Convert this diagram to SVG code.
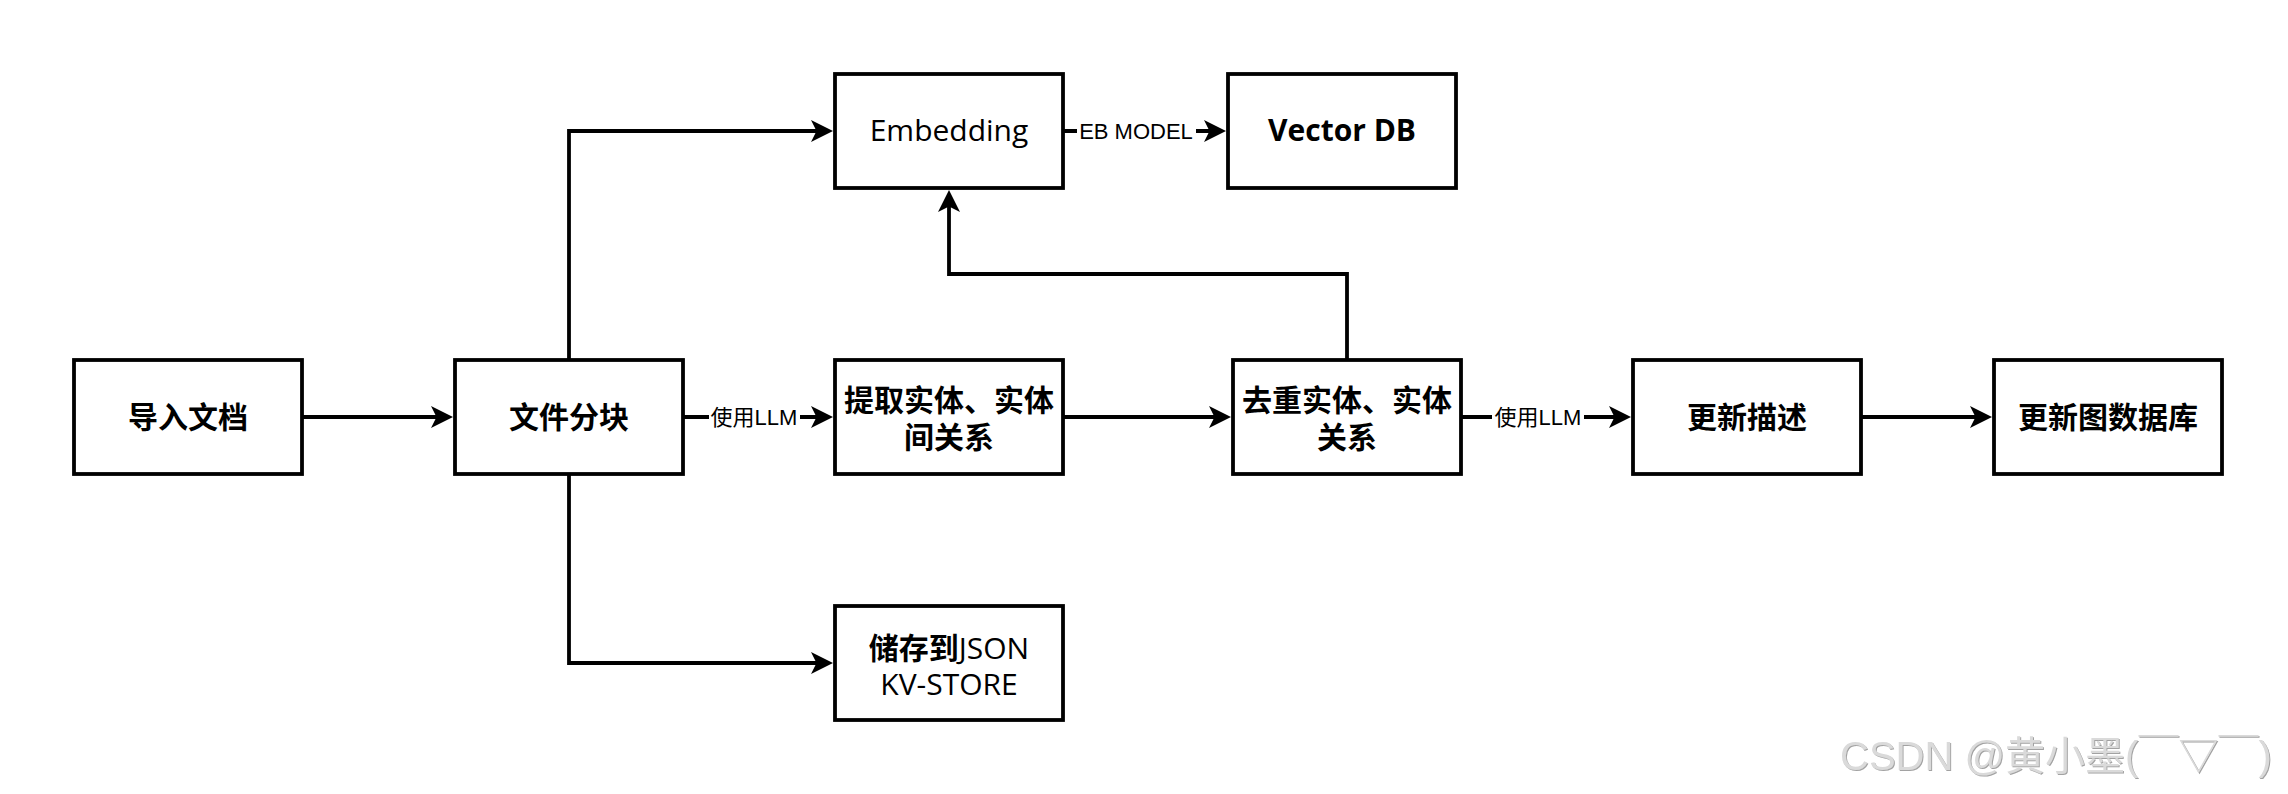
<svg xmlns="http://www.w3.org/2000/svg" width="2288" height="794" viewBox="0 0 2288 794">
<style>
.box{fill:#fff;stroke:#000;stroke-width:3.8}
.t{font-family:"Noto Sans CJK SC","Open Sans",sans-serif;font-size:30px;font-weight:bold;text-anchor:middle;fill:#000}
.lat{font-family:"Open Sans","Noto Sans CJK SC",sans-serif}
.med{font-weight:600}
.reg{font-weight:normal}
.lbl{font-family:"Liberation Sans","Noto Sans CJK SC",sans-serif;font-size:22px;text-anchor:middle;fill:#000}
.edge{fill:none;stroke:#000;stroke-width:3.8;marker-end:url(#arr)}
.wm{font-family:"Liberation Sans","Noto Sans CJK SC",sans-serif;font-size:40px;fill:#dadada}
</style>
<defs>
<marker id="arr" markerUnits="userSpaceOnUse" markerWidth="24" markerHeight="24" viewBox="0 0 24 24" refX="14" refY="11" orient="auto"><path d="M0,0 L22,11 L0,22 L5.5,11 Z" fill="#000"/></marker>
<filter id="emb" x="-5%" y="-20%" width="110%" height="140%"><feDropShadow dx="1" dy="1" stdDeviation="0.6" flood-color="#8a8a8a" flood-opacity="0.8"/></filter>
</defs>
<rect width="2288" height="794" fill="#fff"/>
<g id="connectors">
<path class="edge" d="M302,417 H445"/>
<path class="edge" d="M683,417 H825"/>
<path class="edge" d="M1063,417 H1223"/>
<path class="edge" d="M1461,417 H1623"/>
<path class="edge" d="M1861,417 H1984"/>
<path class="edge" d="M569,360 V131 H825"/>
<path class="edge" d="M569,474 V663 H825"/>
<path class="edge" d="M1063,131 H1218"/>
<path class="edge" d="M1347,360 V274 H949 V198"/>
<rect x="709" y="404" width="91" height="26" fill="#fff"/>
<text class="lbl" x="754" y="425">使用LLM</text>
<rect x="1492" y="404" width="92" height="26" fill="#fff"/>
<text class="lbl" x="1538" y="425">使用LLM</text>
<rect x="1077" y="118" width="119" height="26" fill="#fff"/>
<text class="lbl" x="1136" y="139">EB MODEL</text>
</g>
<g id="n-import"><rect class="box" x="74" y="360" width="228" height="114"/><text class="t" x="188" y="428">导入文档</text></g>
<g id="n-chunk"><rect class="box" x="455" y="360" width="228" height="114"/><text class="t" x="569" y="428">文件分块</text></g>
<g id="n-extract"><rect class="box" x="835" y="360" width="228" height="114"/><text class="t" x="949" y="411">提取实体、实体<tspan x="949" dy="37">间关系</tspan></text></g>
<g id="n-dedup"><rect class="box" x="1233" y="360" width="228" height="114"/><text class="t" x="1347" y="411">去重实体、实体<tspan x="1347" dy="37">关系</tspan></text></g>
<g id="n-update-desc"><rect class="box" x="1633" y="360" width="228" height="114"/><text class="t" x="1747" y="428">更新描述</text></g>
<g id="n-update-graph"><rect class="box" x="1994" y="360" width="228" height="114"/><text class="t" x="2108" y="428">更新图数据库</text></g>
<g id="n-embedding"><rect class="box" x="835" y="74" width="228" height="114"/><text class="t lat reg" x="949" y="141">Embedding</text></g>
<g id="n-vectordb"><rect class="box" x="1228" y="74" width="228" height="114"/><text class="t lat" x="1342" y="141">Vector DB</text></g>
<g id="n-json"><rect class="box" x="835" y="606" width="228" height="114"/><text class="t" x="949" y="659">储存到<tspan class="lat reg">JSON</tspan><tspan class="lat reg" x="949" dy="36">KV-STORE</tspan></text></g>
<text class="wm" x="1840" y="770" filter="url(#emb)">CSDN @黄小墨(￣▽￣)</text>
</svg>
